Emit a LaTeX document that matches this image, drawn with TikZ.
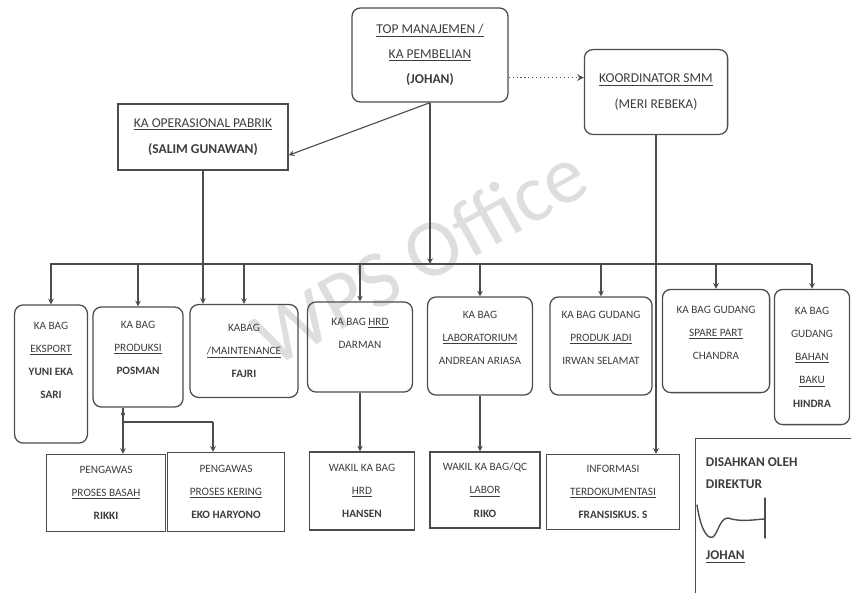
\documentclass[tikz,border=0pt]{standalone}
\usepackage{fontspec}
\setmainfont{Carlito}
\usepackage{tikz}
\usetikzlibrary{arrows,positioning}

\definecolor{ink}{gray}{0.3}
\newcommand\boxfont{\fontsize{8}{16.5}\selectfont}
\newcommand\headfont{\fontsize{9.6}{18}\selectfont}

\tikzset{
  box/.style={draw=ink, line width=0.9pt, rounded corners=6pt, align=center,
    font=\boxfont, text=ink!80!black, inner sep=2pt},
  sbox/.style={box, rounded corners=0pt},
  head/.style={font=\headfont},
  link/.style={draw=ink, line width=0.8pt, ->, >=stealth},
}

\begin{document}
\begin{tikzpicture}[x=0.025cm, y=-0.025cm]
\useasboundingbox (0,0) rectangle (851,593);

% watermark of the scan
\node (wm) [rotate=29, text=black!13, font=\fontsize{58}{58}\selectfont] at (420,255) {WPS Office};

% top level
\node (top) [box, head, minimum width=3.9cm, minimum height=2.35cm] at (430,55)
  {\underline{TOP MANAJEMEN /}\\ \underline{KA PEMBELIAN}\\ \textbf{(JOHAN)}};
\node (koord) [box, head, minimum width=3.58cm, minimum height=2.12cm] at (656,92)
  {\underline{KOORDINATOR SMM}\\ (MERI REBEKA)};
\node (kaop) [sbox, head, minimum width=4.25cm, minimum height=1.65cm] at (203,137)
  {\underline{KA OPERASIONAL PABRIK}\\ \textbf{(SALIM GUNAWAN)}};

% kepala bagian
\node (eks) [box, minimum width=1.82cm, minimum height=3.45cm] at (51,374)
  {KA BAG\\ \underline{EKSPORT}\\ \textbf{YUNI EKA}\\ \textbf{SARI}\\[3pt]};
\node (prod) [box, minimum width=2.25cm, minimum height=2.5cm] at (138,357)
  {KA BAG\\ \underline{PRODUKSI}\\ \textbf{POSMAN}\\[-3.5pt]};
\node (maint) [box, minimum width=2.7cm, minimum height=2.32cm] at (244,351)
  {KABAG\\ \underline{/MAINTENANCE}\\ \textbf{FAJRI}};
\node (hrd) [box, minimum width=2.62cm, minimum height=2.25cm] at (360,347)
  {KA BAG \underline{HRD}\\ DARMAN\\[3pt]};
\node (lab) [box, minimum width=2.62cm, minimum height=2.45cm] at (480,346)
  {KA BAG\\ \underline{LABORATORIUM}\\ ANDREAN ARIASA\\[-5pt]};
\node (gudpj) [box, minimum width=2.55cm, minimum height=2.45cm] at (601,346)
  {KA BAG GUDANG\\ \underline{PRODUK JADI}\\ IRWAN SELAMAT\\[-5pt]};
\node (spare) [box, minimum width=2.68cm, minimum height=2.58cm] at (716,341)
  {KA BAG GUDANG\\ \underline{SPARE PART}\\ CHANDRA\\[-5pt]};
\node (bahan) [box, minimum width=1.88cm, minimum height=3.38cm] at (812,357)
  {KA BAG\\ GUDANG\\ \underline{BAHAN}\\ \underline{BAKU}\\ \textbf{HINDRA}};

% bawahan
\node (basah) [sbox, minimum width=2.98cm, minimum height=1.92cm] at (106,493)
  {PENGAWAS\\ \underline{PROSES BASAH}\\ \textbf{RIKKI}};
\node (kering) [sbox, minimum width=2.92cm, minimum height=1.98cm] at (226,492)
  {PENGAWAS\\ \underline{PROSES KERING}\\ \textbf{EKO HARYONO}};
\node (whrd) [sbox, minimum width=2.62cm, minimum height=1.95cm] at (362,491)
  {WAKIL KA BAG\\ \underline{HRD}\\ \textbf{HANSEN}};
\node (wlab) [sbox, minimum width=2.75cm, minimum height=1.9cm] at (485,490)
  {WAKIL KA BAG/QC\\ \underline{LABOR}\\ \textbf{RIKO}};
\node (info) [sbox, minimum width=3.32cm, minimum height=1.88cm] at (613,492)
  {INFORMASI\\ \underline{TERDOKUMENTASI}\\ \textbf{FRANSISKUS. S}};

% pengesahan
\node (sah) [sbox, anchor=north west, minimum width=4.3cm, minimum height=4.2cm] at (695,438) {};
\node (sahA) [anchor=west, text=ink!80!black, font=\fontsize{9.5}{10}\bfseries] at (701,462) {DISAHKAN OLEH};
\node (sahB) [anchor=west, text=ink!80!black, font=\fontsize{9.5}{10}\bfseries] at (701,484) {DIREKTUR};
\node (sahC) [anchor=west, text=ink!80!black, font=\fontsize{9.5}{10}\bfseries] at (701,557) {\underline{JOHAN}};
\draw[ink, line width=1pt, line cap=round] (697,505) .. controls (700,525) and (706,540) .. (713,537)
  .. controls (718,533) and (720,518) .. (728,518) .. controls (740,522) and (752,520) .. (764,519);
\draw[ink, line width=1pt, line cap=round] (765,498) -- (765,538);

% garis
\coordinate (busL) at (50,264);
\coordinate (busR) at (811,264);
\draw[ink, line width=0.8pt] (busL) -- (busR);
\draw[link, dotted, line width=1.1pt] (top.-16) -- (top.-16 -| koord.west);
\draw[link] (top.south) -- (kaop.-12);
\draw[link] (top.south) -- (top.south |- busL);
\foreach \b in {eks,prod,maint,hrd,lab,gudpj,spare,bahan}
  \draw[link] (\b.north |- busL) -- (\b.north);
\draw[link] (kaop.south) -- (kaop.south |- maint.north);
\draw[link] (koord.south) -- (koord.south |- info.north);
\draw[link] (hrd.south) -- (hrd.south |- whrd.north);
\draw[link] (lab.south) -- (lab.south |- wlab.north);

\coordinate (pj) at (123,422);
\coordinate (pk) at (213,422);
\draw[ink, line width=0.8pt] (pj |- prod.south) -- (pj) -- (pk);
\fill[ink] (123,414) circle (2);
\draw[link] (pj) -- (pj |- basah.north);
\draw[link] (pk) -- (pk |- kering.north);
\end{tikzpicture}
\end{document}
